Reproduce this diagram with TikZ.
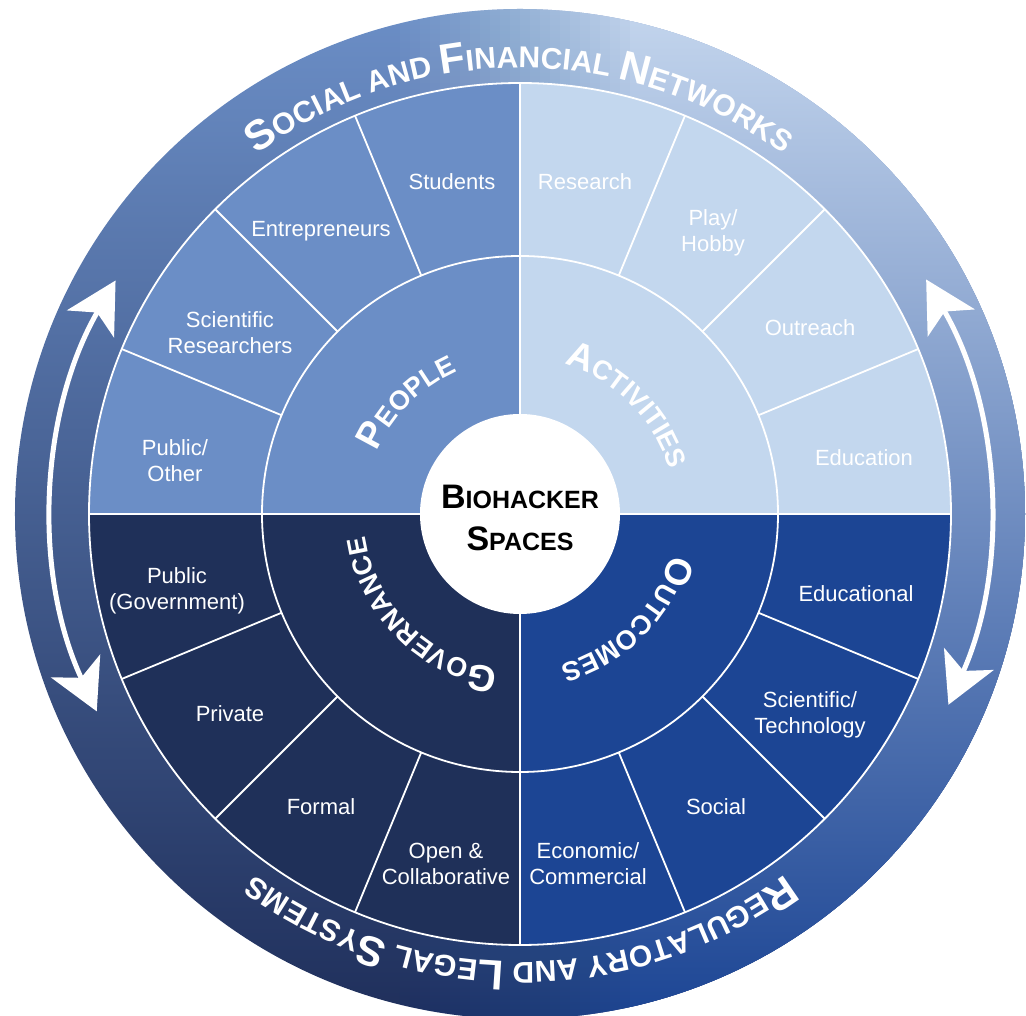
\documentclass[tikz,border=0pt]{standalone}
\usepackage{fontspec}
\setmainfont{Liberation Sans}
\usetikzlibrary{arrows.meta,decorations.text}

\definecolor{peopleblue}{HTML}{6B8EC6}
\definecolor{activblue}{HTML}{C3D7EE}
\definecolor{govnavy}{HTML}{1F3059}
\definecolor{outblue}{HTML}{1C4594}
\definecolor{bandltop}{HTML}{6B8EC6}
\definecolor{bandlmid}{HTML}{3F5B8E}
\definecolor{bandlbot}{HTML}{1F2F5B}
\definecolor{bandrtop}{HTML}{C3D5ED}
\definecolor{bandrmid}{HTML}{8EA3D1}
\definecolor{bandrbot}{HTML}{1C4594}

\newcommand{\bandbig}{\bfseries\fontsize{42}{42}\selectfont}
\newcommand{\bandsmall}{\bfseries\fontsize{30}{30}\selectfont}
\newcommand{\ringbig}{\bfseries\fontsize{34}{34}\selectfont}
\newcommand{\ringsmall}{\bfseries\fontsize{25}{25}\selectfont}
\newcommand{\wordbig}{\bfseries\fontsize{37}{37}\selectfont}
\newcommand{\wordsmall}{\bfseries\fontsize{27}{27}\selectfont}

\begin{document}
\begin{tikzpicture}[x=1pt,y=1pt]
        \tikzstyle{sector label}=[text=white, align=center, font=\fontsize{22}{26}\selectfont, inner sep=0pt]
        \tikzstyle{ring text}=[decorate, decoration={text along path, text align=center, text color=white}]
        \tikzstyle{divider}=[white, line width=1.8pt]
        \tikzstyle{twoway}=[white, line width=5pt, {Stealth[length=50pt,width=54pt,inset=13pt]}-{Stealth[length=50pt,width=54pt,inset=13pt]}]
        \useasboundingbox (-520,-502) rectangle (506,514);

        % outer band
        \begin{scope}
                \clip (0,0) circle (505);
                \shade[top color=bandltop, middle color=bandlmid, bottom color=bandlbot] (-505,-505) rectangle (505,505);
                \foreach \k [evaluate=\k as \op using 1/(25-\k), evaluate=\k as \xs using -120+10*(\k-1)] in {1,...,24}
                        \shade[opacity=\op, top color=bandrtop, middle color=bandrmid, bottom color=bandrbot] (\xs,-505) rectangle (505,505);
        \end{scope}

        % quadrants
        \fill[peopleblue] (0,0) -- (90:431) arc[start angle=90, end angle=180, radius=431] -- cycle;
        \fill[activblue] (0,0) -- (0:431) arc[start angle=0, end angle=90, radius=431] -- cycle;
        \fill[govnavy] (0,0) -- (180:431) arc[start angle=180, end angle=270, radius=431] -- cycle;
        \fill[outblue] (0,0) -- (270:431) arc[start angle=270, end angle=360, radius=431] -- cycle;

        \draw[divider] (0,0) circle (431) (0,0) circle (258);
        \draw[divider] (-431,0) -- (431,0) (0,-431) -- (0,431);
        \foreach \a in {22.5,45,67.5,112.5,135,157.5,202.5,225,247.5,292.5,315,337.5}
                \draw[divider] (\a:258) -- (\a:431);
        \fill[white] (0,0) circle (100);

        \node[align=center, inner sep=0pt, font=\bfseries\fontsize{25}{42}\selectfont] (title) at (0,-3.5)
                {{\ringbig B}{\ringsmall IOHACKER}\\{\ringbig S}{\ringsmall PACES}};

        % ring words
        \path[ring text, decoration={text={|\wordbig|P|\wordsmall|EOPLE}}] (180:156) arc[start angle=180, end angle=90, radius=156];
        \path[ring text, decoration={text={|\wordbig|A|\wordsmall|CTIVITIES}}] (90:156) arc[start angle=90, end angle=0, radius=156];
        \path[ring text, decoration={text={|\wordbig|O|\wordsmall|UTCOMES}}] (0:156) arc[start angle=0, end angle=-90, radius=156];
        \path[ring text, decoration={text={|\wordbig|G|\wordsmall|OVERNANCE}}] (-90:156) arc[start angle=-90, end angle=-180, radius=156];

        % band words
        \path[ring text, decoration={text={|\bandbig|S|\bandsmall|OCIAL AND |\bandbig|F|\bandsmall|INANCIAL |\bandbig|N|\bandsmall|ETWORKS}}] (170:446) arc[start angle=170, end angle=10, radius=446];
        \path[ring text, decoration={text={|\bandbig|R|\bandsmall|EGULATORY AND |\bandbig|L|\bandsmall|EGAL |\bandbig|S|\bandsmall|YSTEMS}}] (-10:448) arc[start angle=-10, end angle=-170, radius=448];

        \draw[twoway] (150:467) arc[start angle=150, end angle=205, radius=467];
        \draw[twoway] (30:469) arc[start angle=30, end angle=-24, radius=469];

        \node[sector label] (students) at (-68,332) {Students};
        \node[sector label] (entrepreneurs) at (-199,283) {Entrepreneurs};
        \node[sector label] (scientists) at (-290,181) {Scientific\\Researchers};
        \node[sector label] (publicother) at (-345,53) {Public/\\Other};

        \node[sector label] (research) at (65,332) {Research};
        \node[sector label] (play) at (193,281) {Play/\\Hobby};
        \node[sector label] (outreach) at (290,186) {Outreach};
        \node[sector label] (education) at (344,56) {Education};

        \node[sector label] (government) at (-343,-77) {Public\\(Government)};
        \node[sector label] (private) at (-290,-200) {Private};
        \node[sector label] (formal) at (-199,-293) {Formal};
        \node[sector label] (open) at (-74,-350) {Open \&\\Collaborative};

        \node[sector label] (economic) at (68,-350) {Economic/\\Commercial};
        \node[sector label] (social) at (196,-293) {Social};
        \node[sector label] (scitech) at (290,-201) {Scientific/\\Technology};
        \node[sector label] (educational) at (336,-80) {Educational};
\end{tikzpicture}
\end{document}
